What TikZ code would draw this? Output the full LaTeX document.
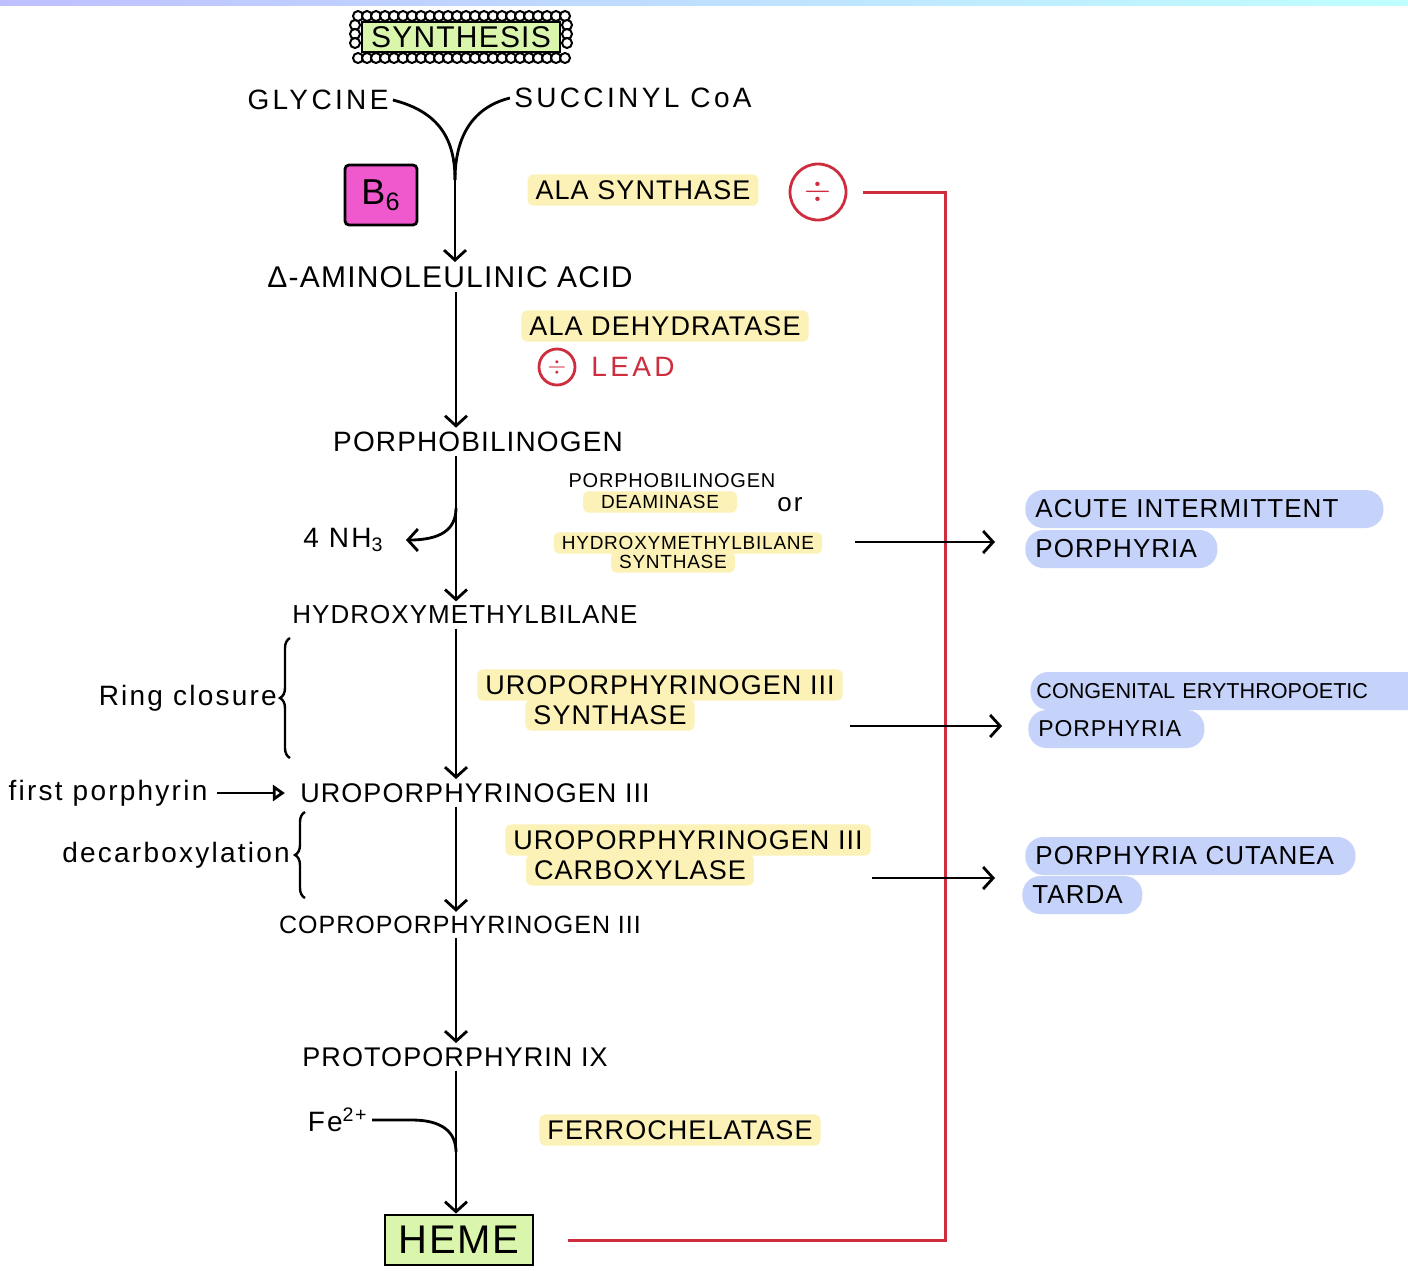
\documentclass[tikz,border=0pt]{standalone}
\usepackage{fontspec}
\setmainfont{Liberation Sans}
\newfontfamily\hand[LetterSpace=4]{Liberation Sans}
\newfontfamily\handwide[LetterSpace=12]{Liberation Sans}
\newfontfamily\scribble[LetterSpace=8]{Liberation Sans}
\usepackage{xcolor}
\usepackage{tikz}
\usetikzlibrary{arrows.meta}
\usetikzlibrary{decorations.pathreplacing}
\definecolor{hlyellow}{RGB}{252,241,182}
\definecolor{disblue}{RGB}{197,210,250}
\definecolor{boxgreen}{RGB}{218,246,172}
\definecolor{bsixpink}{RGB}{240,88,206}
\definecolor{inhred}{RGB}{205,45,60}
\tikzset{
  chem/.style={font=\hand\fontsize{#1}{#1}\selectfont, inner sep=2pt},
  chem/.default=14,
  enz/.style={fill=hlyellow, rounded corners=3pt, inner xsep=4pt, inner ysep=3pt, font=\hand\fontsize{#1}{#1}\selectfont},
  enz/.default=13.5,
  dis/.style={fill=disblue, rounded corners=9pt, anchor=west, inner xsep=5pt, minimum height=19pt,
    text width=#1, align=left, font=\hand\fontsize{13}{13}\selectfont},
  note/.style={font=\scribble\fontsize{14}{16}\selectfont, inner sep=2pt},
  arr/.style={-{Straight Barb[length=5pt,width=11pt]}, line width=1.4pt},
  inh/.style={circle, draw=inhred, line width=1.4pt, text=inhred, inner sep=0pt},
  fb/.style={draw=inhred, line width=1.5pt},
  bead/.style={draw, fill=white, line width=1pt},
  brace/.style={decorate, decoration={brace, amplitude=5pt}, line width=1.2pt},
}

\begin{document}
\begin{tikzpicture}[x=0.5pt,y=-0.5pt]
  \fill[white] (0,0) rectangle (1408,1270);
  \useasboundingbox (0,0) rectangle (1408,1270);
  \shade[left color=blue!25, right color=cyan!25] (0,0) rectangle (1408,5);
  \coordinate (spine) at (456,0);
  \coordinate (fbx) at (945,0);
  % ---------- title ----------
  \foreach \x in {358,367,...,566} {
    \draw[bead] (\x,16) circle (2.5pt);
    \draw[bead] (\x,58) circle (2.5pt);
  }
  \foreach \y in {25,34,...,50} {
    \draw[bead] (355,\y) circle (2.5pt);
    \draw[bead] (567,\y) circle (2.5pt);
  }
  \node[chem=15, draw, fill=boxgreen, line width=1.3pt, minimum width=99pt, minimum height=15pt] (synth) at (461,37) {SYNTHESIS};
  % ---------- the pathway ----------
  \node[chem, font=\handwide\fontsize{14}{14}\selectfont] (gly) at (318,100) {GLYCINE};
  \node[chem, font=\handwide\fontsize{14}{14}\selectfont] (succ) at (633,98) {SUCCINYL CoA};
  \node[draw, fill=bsixpink, line width=1.4pt, rounded corners=2pt, minimum width=36pt, minimum height=30pt,
    font=\fontsize{18}{18}\selectfont] (bsix) at (381,195) {B\textsubscript{6}};
  \node[chem=15] (ala) at (450,277) {Δ-AMINOLEULINIC ACID};
  \node[chem] (pbg) at (478,442) {PORPHOBILINOGEN};
  \node[chem=13] (hmb) at (465,615) {HYDROXYMETHYLBILANE};
  \node[chem=13.5] (uro) at (475,793) {UROPORPHYRINOGEN III};
  \node[chem=12.5] (copro) at (460,925) {COPROPORPHYRINOGEN III};
  \node[chem=13.5] (proto) at (455,1057) {PROTOPORPHYRIN IX};
  \node[chem=20, draw, fill=boxgreen, line width=1.4pt, minimum width=74pt, minimum height=25pt] (heme) at (459,1240) {HEME};
  % side notes
  \node[note, anchor=east] (nh3) at (388,540) {4 NH\textsubscript{3}};
  \node[note, anchor=east] (fe) at (372,1120) {Fe\textsuperscript{2+}};
  \node[note] (first) at (108,793) {first porphyrin};
  \draw[brace] (290,758) -- (290,638) node[midway, left=4pt, note] (ring) {Ring closure};
  \draw[brace] (305,898) -- (305,812) node[midway, left=5pt, note] (decarb) {decarboxylation};
  % ---------- enzymes ----------
  \node[enz] (alas) at (643,190) {ALA SYNTHASE};
  \node[inh, minimum size=28pt, font=\fontsize{18}{18}\selectfont] (alainh) at (818,192) {$\div$};
  \node[enz] (alad) at (665,326) {ALA DEHYDRATASE};
  \node[inh, minimum size=18pt, font=\fontsize{13}{13}\selectfont] (leadinh) at (557,367) {$\div$};
  \node[text=inhred, font=\handwide\fontsize{14}{14}\selectfont] (lead) at (633,367) {LEAD};
  \node[chem=10] (pbgd1) at (672,481) {PORPHOBILINOGEN};
  \node[enz=9.5, minimum width=77pt, inner ysep=2pt] (pbgd2) at (660,502) {DEAMINASE};
  \node[note, font=\scribble\fontsize{13}{13}\selectfont] (or) at (790,505) {or};
  \node[enz=9.5, inner ysep=2pt] (hmbs1) at (688,543) {HYDROXYMETHYLBILANE};
  \node[enz=9.5, inner ysep=2pt] (hmbs2) at (673,562) {SYNTHASE};
  \node[enz] (uros1) at (660,685) {UROPORPHYRINOGEN III};
  \node[enz] (uros2) at (610,715) {SYNTHASE};
  \node[enz] (urod1) at (688,840) {UROPORPHYRINOGEN III};
  \node[enz] (urod2) at (640,870) {CARBOXYLASE};
  \node[enz] (ferro) at (680,1130) {FERROCHELATASE};
  % ---------- porphyrias ----------
  \node[dis=169pt] (aip1) at (1025,509) {ACUTE INTERMITTENT};
  \node[dis=86pt] (aip2) at (1025,549) {PORPHYRIA};
  \node[dis=200pt, inner xsep=3pt, font=\fontsize{10.8}{10.8}\selectfont] (cep1) at (1030,691) {CONGENITAL ERYTHROPOETIC};
  \node[dis=78pt, font=\hand\fontsize{11.5}{11.5}\selectfont] (cep2) at (1028,729) {PORPHYRIA};
  \node[dis=155pt] (pct1) at (1025,856) {PORPHYRIA CUTANEA};
  \node[dis=50pt] (pct2) at (1022,895) {TARDA};
  % ---------- connectors ----------
  \draw[fb, shorten <=17pt, shorten >=8pt] (heme.east) -- (heme.east -| fbx) |- (alainh.east);
  \coordinate (join) at (455,180);
  \draw[line width=1.4pt] (gly.east) .. controls (440,112) and (455,140) .. (join);
  \draw[line width=1.4pt] (succ.west) .. controls (470,108) and (455,140) .. (join);
  \draw[arr] (join) -- (join |- ala.north);
  \foreach \a/\b in {ala/pbg, pbg/hmb, hmb/uro, uro/copro, copro/proto, proto/heme}
    \draw[arr] (\a.south -| spine) -- (\b.north -| spine);
  \coordinate (nhj) at (456,508);
  \draw[arr, shorten >=9pt] (nhj) .. controls (456,530) and (440,540) .. (nh3.east);
  \coordinate (fej) at (456,1152);
  \draw[line width=1.4pt] (fe.east) -- ++(40,0) .. controls +(30,0) and +(0,-20) .. (fej);
  \draw[-{Triangle[open,length=6pt,width=8pt]}, line width=1.4pt, shorten <=2.5pt, shorten >=5.5pt] (first.east) -- (first.east -| uro.west);
  \coordinate (aipfrom) at (855,542);
  \coordinate (cepfrom) at (850,726);
  \coordinate (pctfrom) at (872,878);
  \draw[arr, shorten >=15pt] (aipfrom) -- (aipfrom -| aip2.west);
  \draw[arr, shorten >=13pt] (cepfrom) -- (cepfrom -| cep2.west);
  \draw[arr, shorten >=15pt] (pctfrom) -- (pctfrom -| pct1.west);
\end{tikzpicture}
\end{document}
